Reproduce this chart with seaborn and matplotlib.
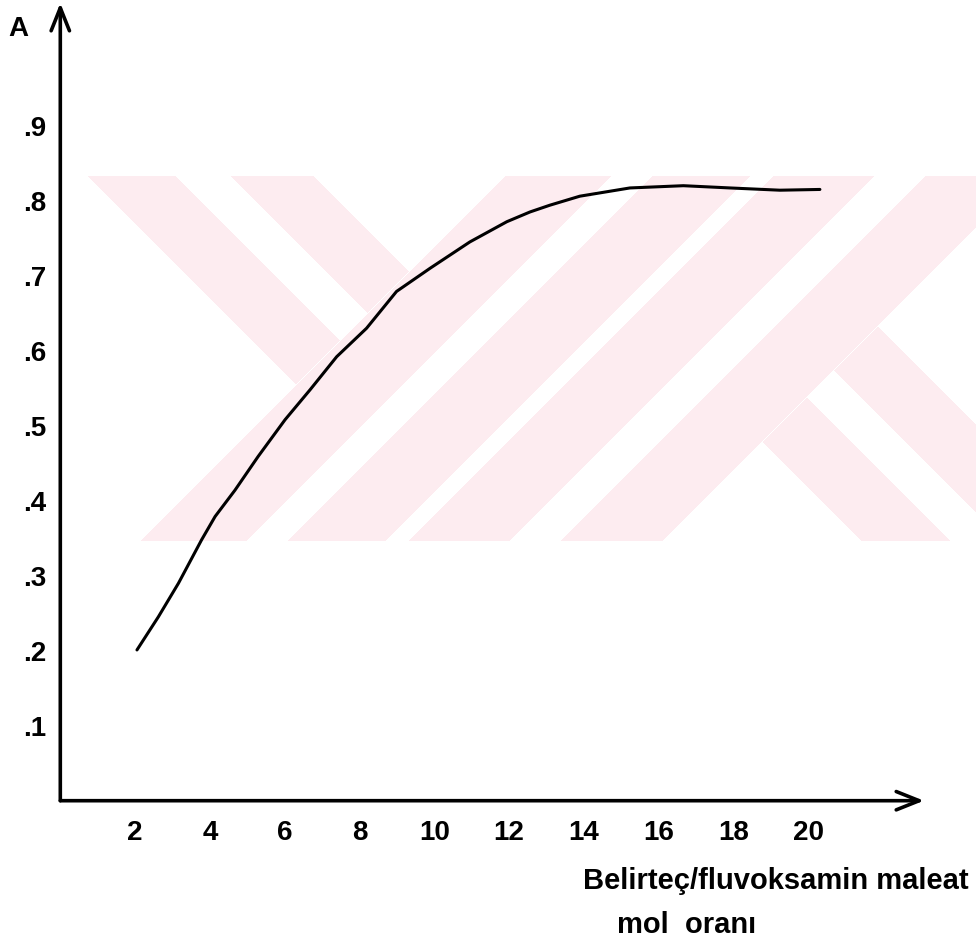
import numpy as np
import pandas as pd
import matplotlib
matplotlib.use("Agg")
import matplotlib.pyplot as plt
import seaborn as sns

# ---- data ----
mol_ratio = [2.05, 2.62, 3.16, 3.78, 4.14, 4.67, 5.29, 6.01, 6.68, 7.39,
             8.19, 8.99, 9.89, 10.95, 11.94, 12.56, 13.09, 13.89, 15.23,
             16.66, 17.91, 19.24, 20.31]
absorbance = [0.201, 0.245, 0.290, 0.348, 0.379, 0.414, 0.459, 0.508, 0.548,
              0.592, 0.630, 0.679, 0.710, 0.745, 0.772, 0.785, 0.794, 0.806,
              0.817, 0.820, 0.817, 0.814, 0.815]
x_ticks = [2, 4, 6, 8, 10, 12, 14, 16, 18, 20]
x_tick_labels = ["2", "4", "6", "8", "10", "12", "14", "16", "18", "20"]
y_ticks = [0.1, 0.2, 0.3, 0.4, 0.5, 0.6, 0.7, 0.8, 0.9]
y_tick_labels = [".1", ".2", ".3", ".4", ".5", ".6", ".7", ".8", ".9"]
y_label = "A"
x_label_lines = ["Belirteç/fluvoksamin maleat", "mol  oranı"]

df = pd.DataFrame({"ratio": mol_ratio, "A": absorbance})

sns.set_style("white")
plt.rcParams["font.family"] = ["Liberation Sans", "DejaVu Sans"]
plt.rcParams["text.color"] = "black"
plt.rcParams["xtick.color"] = "black"
plt.rcParams["ytick.color"] = "black"
plt.rcParams["xtick.labelcolor"] = "black"
plt.rcParams["ytick.labelcolor"] = "black"

W, H = 976, 950
fig = plt.figure(figsize=(W / 100, H / 100), dpi=100)

# ---- faint background watermark (pink stripes) ----
yy, xx = np.mgrid[0:H, 0:W]
s = xx + yy
d = xx - yy
mask = (((d > -89) & (d < 0) & (s < 680)) |
        ((d > 54) & (d < 138) & (s < 680)) |
        ((s > 680) & (s < 787)) |
        ((s > 827) & (s < 926)) |
        ((s > 948) & (s < 1050)) |
        ((s > 1100) & (s < 1203)) |
        ((s > 1203) & (d > 320) & (d < 410)) |
        ((s > 1203) & (d > 463) & (d < 552)))
mask &= (yy >= 176) & (yy <= 540)
img = np.zeros((H, W, 4))
img[mask] = (253 / 255, 236 / 255, 240 / 255, 1.0)
fig.figimage(img, xo=0, yo=0, origin="upper", zorder=-5)

# ---- axes geometry (pixels) ----
x0_px, y0_px = 60.3, 800.7
xtip_px, ytip_px = 924.0, 3.0
px_per_x = 37.4
px_per_y = 750.0
ax = fig.add_axes([x0_px / W, 1 - y0_px / H,
                   (xtip_px - x0_px) / W, (y0_px - ytip_px) / H])
ax.patch.set_alpha(0)
ax.set_xlim(0, (xtip_px - x0_px) / px_per_x)
ax.set_ylim(0, (y0_px - ytip_px) / px_per_y)

sns.lineplot(data=df, x="ratio", y="A", ax=ax, color="black", lw=2.2,
             estimator=None, sort=False)

for sp in ax.spines.values():
    sp.set_visible(False)

arrow_kw = dict(arrowstyle="->,head_length=0.75,head_width=0.3",
                color="black", lw=2.6, mutation_scale=22, shrinkA=0, shrinkB=0)
ax.annotate("", xy=(1, 0), xytext=(0, 0), xycoords="axes fraction",
            textcoords="axes fraction", arrowprops=arrow_kw, annotation_clip=False)
ax.annotate("", xy=(0, 1), xytext=(0, 0), xycoords="axes fraction",
            textcoords="axes fraction", arrowprops=arrow_kw, annotation_clip=False)

ax.set_xticks(x_ticks)
ax.set_xticklabels(x_tick_labels)
ax.set_yticks(y_ticks)
ax.set_yticklabels(y_tick_labels)
ax.tick_params(axis="both", direction="inout", length=8.5, width=1.8,
               colors="black", labelsize=20)
ax.tick_params(axis="x", pad=10)
ax.tick_params(axis="y", pad=6)
for lab in ax.get_xticklabels() + ax.get_yticklabels():
    lab.set_fontweight("bold")
ax.set_xlabel("")
ax.set_ylabel("")

fig.text(18 / W, 1 - 29 / H, y_label, ha="center", va="center",
         fontsize=20, fontweight="bold", color="black")
fig.text(583 / W, 1 - 889 / H, x_label_lines[0], ha="left", va="baseline",
         fontsize=21, fontweight="bold", color="black")
fig.text(617 / W, 1 - 933 / H, x_label_lines[1], ha="left", va="baseline",
         fontsize=21, fontweight="bold", color="black")

fig.savefig("out.png", dpi=100)
